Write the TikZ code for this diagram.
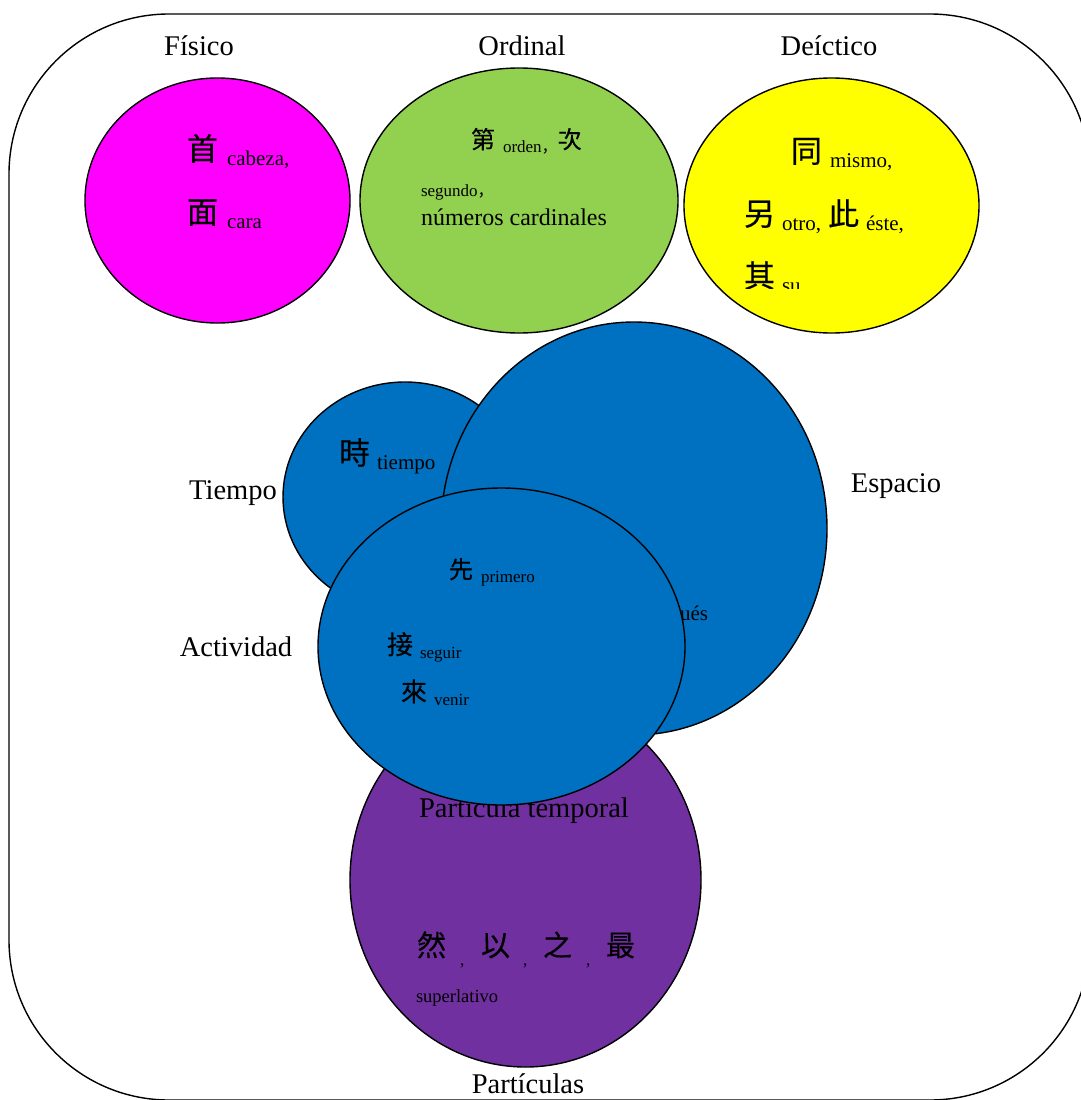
\documentclass[tikz,border=0pt]{standalone}
\usepackage{fontspec}
\setmainfont{Liberation Serif}
\newfontfamily\cjk{Noto Sans CJK TC}[FakeBold=0.4]
\newfontfamily\cjksc{Noto Sans CJK SC}
\usetikzlibrary{shapes.geometric}
\definecolor{cmag}{HTML}{FF00FF}
\definecolor{cgreen}{HTML}{92D050}
\definecolor{cyellow}{HTML}{FFFF00}
\definecolor{cblue}{HTML}{0070C0}
\definecolor{cpurple}{HTML}{7030A0}
\newcommand\cjkB[1]{\raisebox{4.7pt}{\cjk\fontsize{31}{31}\selectfont #1}}
\newcommand\cjkM[1]{\raisebox{3.8pt}{\cjk\fontsize{26}{26}\selectfont #1}}
\newcommand\cjkS[1]{\raisebox{3.7pt}{\cjk\fontsize{24}{24}\selectfont #1}}
\newcommand\cjkP[1]{\raisebox{6pt}{\cjk\fontsize{29}{29}\selectfont #1}}
\newcommand\subB[1]{{\fontsize{21}{21}\selectfont #1}}
\newcommand\subS[1]{{\fontsize{17}{17}\selectfont #1}}
\newcommand\cjkcomma{{\cjksc\fontsize{16}{16}\selectfont ，}}
\tikzset{
  bubble/.style={ellipse, draw=black, line width=1.4pt, inner sep=0pt, outer sep=0pt},
  txt/.style={anchor=base west, inner sep=0pt, outer sep=0pt},
  lbl/.style={anchor=base, inner sep=0pt, outer sep=0pt, font=\fontsize{28.5}{28.5}\selectfont}
}
\begin{document}
\begin{tikzpicture}[x=1pt,y=-1pt]
\clip (0,0) rectangle (1081,1100);
\fill[white] (0,0) rectangle (1081,1100);
% outer frame
\draw[line width=1.4pt, rounded corners=160pt] (9,14) rectangle (1090,1100);
% labels
\node[lbl] (lfis) at (199,55) {Físico};
\node[lbl] (lord) at (522,55) {Ordinal};
\node[lbl] (ldei) at (829,55) {Deíctico};
\node[lbl] (ltie) at (233,499) {Tiempo};
\node[lbl] (lesp) at (896,492) {Espacio};
\node[lbl] (lact) at (236,656) {Actividad};
\node[lbl] (lpar) at (528,1093) {Partículas};
% top bubbles
\node[bubble, fill=cmag, minimum width=265pt, minimum height=245pt] (fis) at (217.5,200.5) {};
\node[bubble, fill=cgreen, minimum width=318pt, minimum height=265pt] (ord) at (519,200.5) {};
\node[bubble, fill=cyellow, minimum width=295pt, minimum height=255pt] (dei) at (831.5,205.5) {};
% magenta text
\node[txt] (t1) at (187,165) {\cjkB{首}\hspace{9pt}\subB{cabeza,}};
\node[txt] (t2) at (187,228) {\cjkB{面}\hspace{9pt}\subB{cara}};
% green text
\node[txt] (t3) at (471,152) {\cjkS{第}\hspace{8pt}\subS{orden}\cjkcomma\cjkS{次}};
\node[txt] (t4) at (421,196) {\subS{segundo}\cjkcomma};
\node[txt] (t5) at (421,225) {\fontsize{24}{24}\selectfont números cardinales};
% yellow text
\node[txt] (t6) at (791,167) {\cjkB{同}\hspace{8pt}\subB{mismo,}};
\node[txt] (t7) at (744,230) {\cjkB{另}\hspace{7pt}\subB{otro,}\hspace{7pt}\cjkB{此}\hspace{7pt}\subB{éste,}};
\begin{scope}
\clip (700,250) rectangle (900,288);
\node[txt] (t8) at (744,292) {\cjkB{其}\hspace{7pt}\subB{su}};
\end{scope}
% particles
\node[bubble, fill=cpurple, minimum width=351pt, minimum height=374pt] (par) at (525.5,880) {};
\node[lbl] (lpt) at (524,817) {Partícula temporal};
\node[txt] (p1) at (417,962) {\cjkP{然}};
\node[txt] (c1) at (460,965) {\subS{,}};
\node[txt] (p2) at (481,962) {\cjkP{以}};
\node[txt] (c2) at (523,965) {\subS{,}};
\node[txt] (p3) at (543,962) {\cjkP{之}};
\node[txt] (c3) at (586,965) {\subS{,}};
\node[txt] (p4) at (606,962) {\cjkP{最}};
\node[txt] (sup) at (416,1002) {{\fontsize{18.5}{18.5}\selectfont superlativo}};
% blue bubbles
\node[bubble, fill=cblue, minimum width=244pt, minimum height=230pt] (tie) at (405,497) {};
\node[txt] (t9) at (339,469) {\cjkB{時}\hspace{7pt}\subB{tiempo}};
\node[bubble, fill=cblue, minimum width=386pt, minimum height=413pt] (esp) at (634,528.5) {};
\node[txt] (t13) at (680,620) {\subB{ués}};
\node[bubble, fill=cblue, minimum width=367pt, minimum height=317pt] (act) at (501.5,646.5) {};
\node[txt] (t10) at (449,582) {\cjkS{先}\hspace{8pt}\subS{primero}};
\node[txt] (t11) at (387,658) {\cjkM{接}\hspace{7pt}\subS{seguir}};
\node[txt] (t12) at (401,705) {\cjkM{來}\hspace{7pt}\subS{venir}};
\end{tikzpicture}
\end{document}
